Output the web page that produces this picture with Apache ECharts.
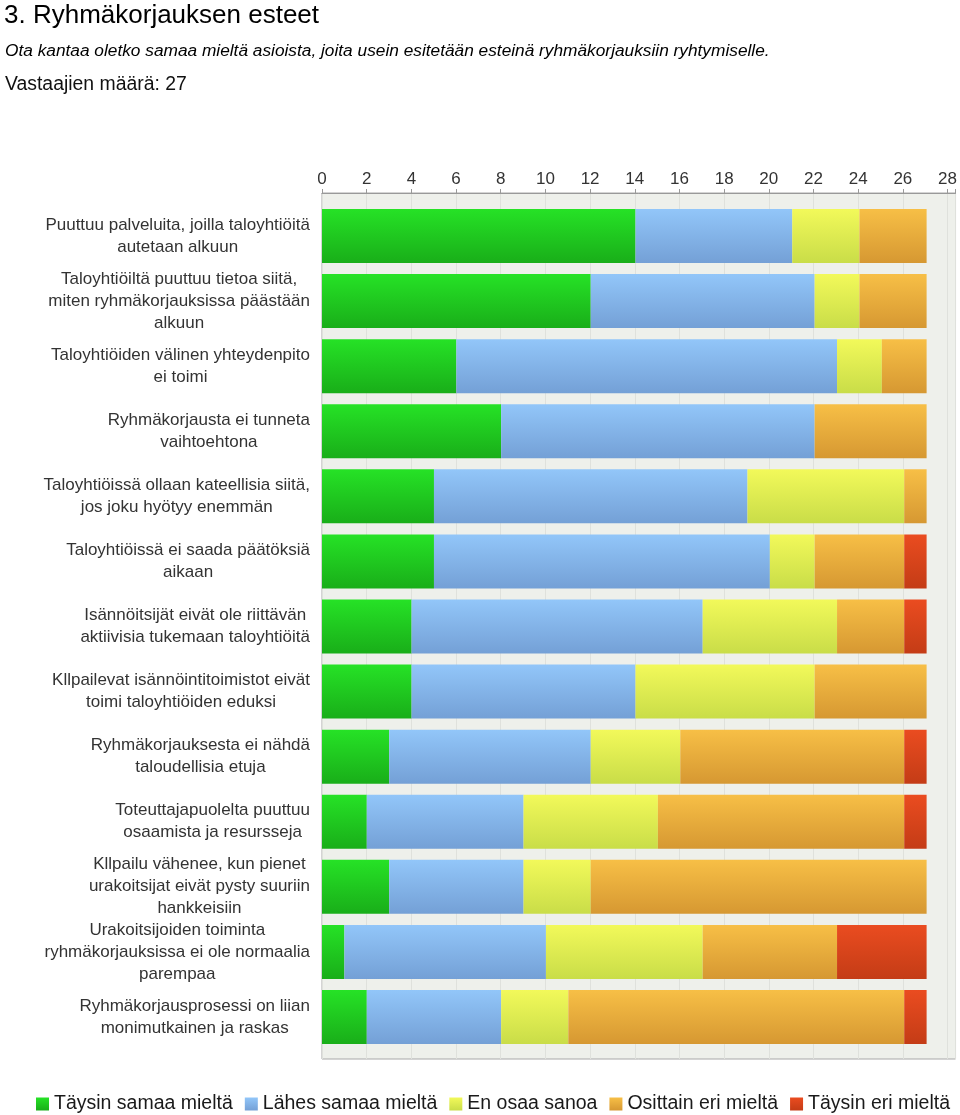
<!DOCTYPE html>
<html><head><meta charset="utf-8">
<script src="https://cdn.jsdelivr.net/npm/echarts@6/dist/echarts.min.js"></script>
<style>html,body{margin:0;padding:0;background:#fff}#c{width:960px;height:1115px}</style>
</head><body><div id="c"></div>
<script>
const categories = [
  "Puuttuu palveluita, joilla taloyhtiöitä\nautetaan alkuun",
  "Taloyhtiöiltä puuttuu tietoa siitä,\nmiten ryhmäkorjauksissa päästään\nalkuun",
  "Taloyhtiöiden välinen yhteydenpito\nei toimi",
  "Ryhmäkorjausta ei tunneta\nvaihtoehtona",
  "Taloyhtiöissä ollaan kateellisia siitä,\njos joku hyötyy enemmän",
  "Taloyhtiöissä ei saada päätöksiä\naikaan",
  "Isännöitsijät eivät ole riittävän\naktiivisia tukemaan taloyhtiöitä",
  "Kllpailevat isännöintitoimistot eivät\ntoimi taloyhtiöiden eduksi",
  "Ryhmäkorjauksesta ei nähdä\ntaloudellisia etuja",
  "Toteuttajapuolelta puuttuu\nosaamista ja resursseja",
  "Kllpailu vähenee, kun pienet\nurakoitsijat eivät pysty suuriin\nhankkeisiin",
  "Urakoitsijoiden toiminta\nryhmäkorjauksissa ei ole normaalia\nparempaa",
  "Ryhmäkorjausprosessi on liian\nmonimutkainen ja raskas"
];
const seriesNames = ["Täysin samaa mieltä", "Lähes samaa mieltä", "En osaa sanoa", "Osittain eri mieltä", "Täysin eri mieltä"];
const taysinSamaa = [14, 12, 6, 8, 5, 5, 4, 4, 3, 2, 3, 1, 2];
const lahesSamaa  = [7, 10, 17, 14, 14, 15, 13, 10, 9, 7, 6, 9, 6];
const enOsaa      = [3, 2, 2, 0, 7, 2, 6, 8, 4, 6, 3, 7, 3];
const osittainEri = [3, 3, 2, 5, 1, 4, 3, 5, 10, 11, 15, 6, 15];
const taysinEri   = [0, 0, 0, 0, 0, 1, 1, 0, 1, 1, 0, 4, 1];
const tickValues = [0, 2, 4, 6, 8, 10, 12, 14, 16, 18, 20, 22, 24, 26, 28];

const values = [taysinSamaa, lahesSamaa, enOsaa, osittainEri, taysinEri];
const colorPairs = [
  ['#26e226', '#19ae19'],
  ['#92c6f9', '#74a0d6'],
  ['#f2f95a', '#c9dd48'],
  ['#f7bf46', '#d69832'],
  ['#ea4c20', '#c43c16']
];
const grad = (p) => new echarts.graphic.LinearGradient(0, 0, 0, 1, [
  { offset: 0, color: p[0] }, { offset: 1, color: p[1] }
]);

const AX_MAX = 28.357;
const FONT = 'Liberation Sans, Arial';
const chart = echarts.init(document.getElementById('c'), null, { renderer: 'canvas' });
const option = {
  animation: false,
  backgroundColor: '#fff',
  title: [
    { text: '3. Ryhmäkorjauksen esteet', left: 4, top: 3, padding: 0,
      textStyle: { fontFamily: FONT, fontSize: 26, fontWeight: 'normal', color: '#000' } },
    { text: 'Ota kantaa oletko samaa mieltä asioista, joita usein esitetään esteinä ryhmäkorjauksiin ryhtymiselle.', left: 5, top: 42.5, padding: 0,
      textStyle: { fontFamily: FONT, fontSize: 17.3, fontStyle: 'italic', fontWeight: 'normal', color: '#000' } },
    { text: 'Vastaajien määrä: 27', left: 5, top: 75.5, padding: 0,
      textStyle: { fontFamily: FONT, fontSize: 19.4, fontWeight: 'normal', color: '#111' } }
  ],
  legend: {
    data: seriesNames,
    left: 31, top: 1089,
    itemWidth: 13, itemHeight: 13, itemGap: 12,
    icon: 'rect',
    textStyle: { fontFamily: FONT, fontSize: 19.5, color: '#1a1a1a' }
  },
  grid: [
    { left: 322, top: 193, width: 635, height: 866, show: true,
      backgroundColor: '#eef0eb', borderColor: '#a8a8a8', borderWidth: 1 },
    { left: 322, top: 203.5, width: 635, height: 846 }
  ],
  xAxis: [
    { gridIndex: 0, type: 'value', position: 'top', min: 0, max: AX_MAX, interval: 2,
      axisLine: { show: true, lineStyle: { color: '#999', width: 1 } },
      axisTick: { show: true, length: 4, lineStyle: { color: '#999' } },
      axisLabel: { margin: 5, fontFamily: FONT, fontSize: 17, color: '#333',
        formatter: (v) => tickValues.includes(v) ? String(v) : '' },
      splitLine: { show: true, lineStyle: { color: '#dfe1dc', width: 1 } } },
    { gridIndex: 1, type: 'value', min: 0, max: AX_MAX, show: false }
  ],
  yAxis: [
    { gridIndex: 0, type: 'category', data: categories, show: false, inverse: true },
    { gridIndex: 1, type: 'category', data: categories, inverse: true,
      axisLine: { show: false }, axisTick: { show: false },
      axisLabel: {
        margin: 12, interval: 0,
        formatter: (v) => v.split('\n').map(l => '{c|' + l + '}').join('\n'),
        rich: { c: { align: 'center', fontFamily: FONT, fontSize: 17, color: '#333', lineHeight: 22 } }
      } }
  ],
  series: seriesNames.map((name, i) => ({
    name, type: 'bar', stack: 'total', xAxisIndex: 1, yAxisIndex: 1,
    barWidth: 54,
    data: values[i],
    itemStyle: { color: grad(colorPairs[i]) }
  }))
};
chart.setOption(option);
</script></body></html>
